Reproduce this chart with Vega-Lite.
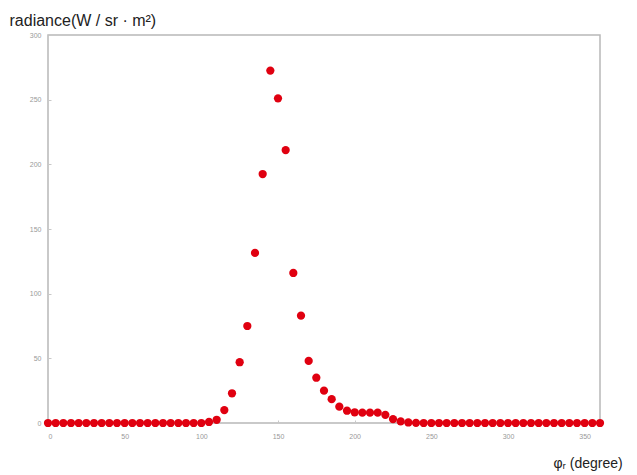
{
  "$schema": "https://vega.github.io/schema/vega-lite/v6.json",
  "autosize": "none",
  "width": 552,
  "height": 388,
  "padding": {"left": 48, "top": 35, "right": 37, "bottom": 52},
  "background": "white",
  "config": {
    "view": {"stroke": "#b8b8b8", "strokeWidth": 1.5},
    "font": "Liberation Sans"
  },
  "data": {
    "values": [
      {"phi": 0, "radiance": 0}, {"phi": 5, "radiance": 0}, {"phi": 10, "radiance": 0}, {"phi": 15, "radiance": 0},
      {"phi": 20, "radiance": 0}, {"phi": 25, "radiance": 0}, {"phi": 30, "radiance": 0}, {"phi": 35, "radiance": 0},
      {"phi": 40, "radiance": 0}, {"phi": 45, "radiance": 0}, {"phi": 50, "radiance": 0}, {"phi": 55, "radiance": 0},
      {"phi": 60, "radiance": 0}, {"phi": 65, "radiance": 0}, {"phi": 70, "radiance": 0}, {"phi": 75, "radiance": 0},
      {"phi": 80, "radiance": 0}, {"phi": 85, "radiance": 0}, {"phi": 90, "radiance": 0}, {"phi": 95, "radiance": 0},
      {"phi": 100, "radiance": 0}, {"phi": 105, "radiance": 0.8}, {"phi": 110, "radiance": 2.5}, {"phi": 115, "radiance": 10},
      {"phi": 120, "radiance": 23}, {"phi": 125, "radiance": 47}, {"phi": 130, "radiance": 75}, {"phi": 135, "radiance": 131.5},
      {"phi": 140, "radiance": 192.5}, {"phi": 145, "radiance": 272.5}, {"phi": 150, "radiance": 251}, {"phi": 155, "radiance": 211},
      {"phi": 160, "radiance": 116}, {"phi": 165, "radiance": 83}, {"phi": 170, "radiance": 48}, {"phi": 175, "radiance": 35},
      {"phi": 180, "radiance": 25}, {"phi": 185, "radiance": 18.4}, {"phi": 190, "radiance": 12.6}, {"phi": 195, "radiance": 9.5},
      {"phi": 200, "radiance": 8.3}, {"phi": 205, "radiance": 8}, {"phi": 210, "radiance": 8}, {"phi": 215, "radiance": 8},
      {"phi": 220, "radiance": 6.3}, {"phi": 225, "radiance": 3}, {"phi": 230, "radiance": 1.2}, {"phi": 235, "radiance": 0.4},
      {"phi": 240, "radiance": 0.1}, {"phi": 245, "radiance": 0}, {"phi": 250, "radiance": 0}, {"phi": 255, "radiance": 0},
      {"phi": 260, "radiance": 0}, {"phi": 265, "radiance": 0}, {"phi": 270, "radiance": 0}, {"phi": 275, "radiance": 0},
      {"phi": 280, "radiance": 0}, {"phi": 285, "radiance": 0}, {"phi": 290, "radiance": 0}, {"phi": 295, "radiance": 0},
      {"phi": 300, "radiance": 0}, {"phi": 305, "radiance": 0}, {"phi": 310, "radiance": 0}, {"phi": 315, "radiance": 0},
      {"phi": 320, "radiance": 0}, {"phi": 325, "radiance": 0}, {"phi": 330, "radiance": 0}, {"phi": 335, "radiance": 0},
      {"phi": 340, "radiance": 0}, {"phi": 345, "radiance": 0}, {"phi": 350, "radiance": 0}, {"phi": 355, "radiance": 0},
      {"phi": 360, "radiance": 0}
    ]
  },
  "mark": {"type": "circle", "color": "#e00010", "opacity": 1, "size": 68, "clip": false},
  "encoding": {
    "x": {
      "field": "phi",
      "type": "quantitative",
      "scale": {"domain": [0, 360], "nice": false, "zero": false},
      "axis": {
        "values": [0, 50, 100, 150, 200, 250, 300, 350],
        "grid": false,
        "domain": false,
        "ticks": true,
        "tickSize": -3,
        "tickColor": "#c8c8c8",
        "labelFontSize": 7,
        "labelColor": "#999999",
        "labelPadding": 12,
        "title": "φᵣ (degree)",
        "titleFontSize": 14,
        "titleFontWeight": "normal",
        "titleColor": "#222222",
        "titleAnchor": "start",
        "titleAlign": "left",
        "titleBaseline": "alphabetic",
        "titleX": 505,
        "titleY": 44
      }
    },
    "y": {
      "field": "radiance",
      "type": "quantitative",
      "scale": {"domain": [0, 300], "nice": false},
      "axis": {
        "values": [0, 50, 100, 150, 200, 250, 300],
        "grid": false,
        "domain": false,
        "ticks": true,
        "tickSize": -3,
        "tickColor": "#c8c8c8",
        "labelFontSize": 7,
        "labelColor": "#999999",
        "labelPadding": 10,
        "title": "radiance(W / sr · m²)",
        "titleAngle": 0,
        "titleFontSize": 16,
        "titleFontWeight": "normal",
        "titleColor": "#222222",
        "titleAlign": "left",
        "titleBaseline": "alphabetic",
        "titleX": -39,
        "titleY": -10
      }
    }
  }
}
